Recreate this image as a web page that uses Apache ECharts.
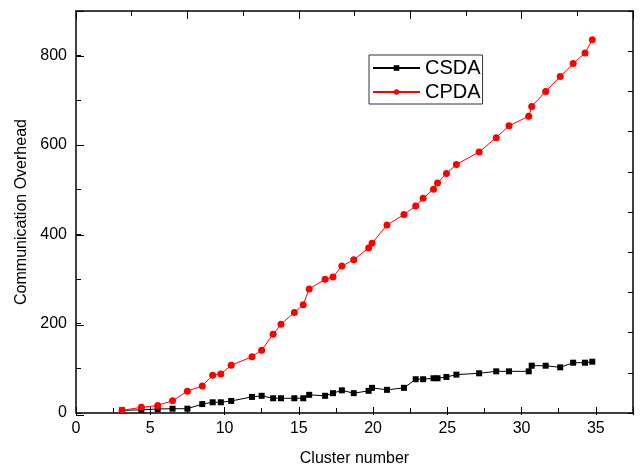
<!DOCTYPE html>
<html><head><meta charset="utf-8">
<script src="https://cdn.jsdelivr.net/npm/echarts@6/dist/echarts.min.js"></script>
<style>html,body{margin:0;padding:0;background:#fff}#c{width:640px;height:472px}</style>
</head><body><div id="c"></div>
<script>
const clusterNumber = [3.1, 4.4, 5.5, 6.5, 7.5, 8.5, 9.2, 9.75, 10.45, 11.85, 12.5, 13.27, 13.8, 14.7, 15.3, 15.7, 16.77, 17.3, 17.9, 18.7, 19.7, 19.93, 20.94, 22.08, 22.87, 23.37, 24.07, 24.34, 24.94, 25.61, 27.14, 28.29, 29.15, 30.48, 30.68, 31.62, 32.6, 33.47, 34.27, 34.76];
const csda = [6, 7, 9, 9.6, 9.6, 20, 24, 24, 27, 36, 38.5, 33, 33, 33, 33, 40.7, 38.5, 44.4, 50.7, 44.4, 49.6, 56.3, 51.9, 56.3, 75.6, 75.6, 77.8, 77.8, 80.7, 85.9, 88.9, 93.3, 93.3, 93.3, 105.9, 105.9, 102.2, 112.6, 112.6, 114.8];
const cpda = [6, 12.6, 17, 27.4, 48.9, 60.7, 84.4, 87.4, 106.7, 126, 140.7, 176.3, 198.5, 225.2, 242.2, 277.8, 299.2, 304.4, 328.9, 343, 369.6, 380, 420.7, 444.4, 463.7, 480.7, 500.7, 514.8, 536.3, 556.3, 584.4, 616.3, 643, 664.4, 686, 720, 753.3, 782.2, 806, 835.6];
const seriesNames = ['CSDA', 'CPDA'];
const xTickLabels = [0, 5, 10, 15, 20, 25, 30, 35];
const yTickLabels = [0, 200, 400, 600, 800];
const xAxisTitle = 'Cluster number';
const yAxisTitle = 'Communication Overhead';

const FONT = 'Arial, "Liberation Sans", sans-serif';
const line = {show: true, onZero: false, lineStyle: {color: '#000', width: 1.5}};
const noLine = {show: false, onZero: false};
const tick = (len) => ({show: true, inside: true, length: len, lineStyle: {color: '#000', width: 1}});
const noLabel = {show: false};
const noSplit = {show: false};

const chart = echarts.init(document.getElementById('c'), null, {renderer: 'canvas'});
chart.setOption({
  animation: false,
  backgroundColor: '#fff',
  textStyle: {fontFamily: FONT},
  grid: [
    {left: 76, right: 7, top: 11, bottom: 57},
    {left: 76, right: 7, top: 11, bottom: 57}
  ],
  legend: {
    orient: 'vertical', left: 369, top: 55,
    padding: [3, 2, 2, 3], itemGap: 4, itemWidth: 47, itemHeight: 7,
    borderColor: '#333', borderWidth: 1,
    textStyle: {fontSize: 20, color: '#000', fontFamily: FONT},
    data: seriesNames
  },
  xAxis: [
    {gridIndex: 0, type: 'value', position: 'bottom', min: 0, max: 37.5, interval: 2.5,
     axisLine: line, axisTick: tick(5), splitLine: noSplit,
     axisLabel: {fontSize: 16, color: '#000', margin: 8, fontFamily: FONT,
       formatter: v => xTickLabels.indexOf(v) >= 0 ? String(v) : ''},
     name: xAxisTitle, nameLocation: 'middle', nameGap: 38,
     nameTextStyle: {fontSize: 16, color: '#000', fontFamily: FONT}},
    {gridIndex: 0, type: 'value', position: 'top', min: 0, max: 37.5, interval: 3.75,
     axisLine: line, axisTick: tick(5), splitLine: noSplit, axisLabel: noLabel},
    {gridIndex: 1, type: 'value', position: 'bottom', min: 0, max: 37.5, interval: 5,
     axisLine: noLine, axisTick: tick(8), splitLine: noSplit, axisLabel: noLabel},
    {gridIndex: 1, type: 'value', position: 'top', min: 0, max: 37.5, interval: 7.5,
     axisLine: noLine, axisTick: tick(8), splitLine: noSplit, axisLabel: noLabel}
  ],
  yAxis: [
    {gridIndex: 0, type: 'value', position: 'left', min: 0, max: 900, interval: 100,
     axisLine: line, axisTick: tick(5), splitLine: noSplit,
     axisLabel: {fontSize: 16, color: '#000', margin: 9, fontFamily: FONT,
       formatter: v => yTickLabels.indexOf(v) >= 0 ? String(v) : ''},
     name: yAxisTitle, nameLocation: 'middle', nameGap: 46, nameRotate: 90,
     nameTextStyle: {fontSize: 16, color: '#000', fontFamily: FONT}},
    {gridIndex: 0, type: 'value', position: 'right', min: 0, max: 900, interval: 90,
     axisLine: line, axisTick: tick(5), splitLine: noSplit, axisLabel: noLabel},
    {gridIndex: 1, type: 'value', position: 'left', min: 0, max: 900, interval: 200,
     axisLine: noLine, axisTick: tick(8), splitLine: noSplit, axisLabel: noLabel}
  ],
  series: [
    {name: seriesNames[0], type: 'line', xAxisIndex: 0, yAxisIndex: 0,
     data: clusterNumber.map((x, i) => [x, csda[i]]),
     symbol: 'rect', symbolSize: 6,
     itemStyle: {color: '#000'}, lineStyle: {color: '#000', width: 1}},
    {name: seriesNames[1], type: 'line', xAxisIndex: 0, yAxisIndex: 0,
     data: clusterNumber.map((x, i) => [x, cpda[i]]),
     symbol: 'circle', symbolSize: 7,
     itemStyle: {color: '#ff0000'}, lineStyle: {color: '#ff0000', width: 1}}
  ]
});
</script>
</body></html>
